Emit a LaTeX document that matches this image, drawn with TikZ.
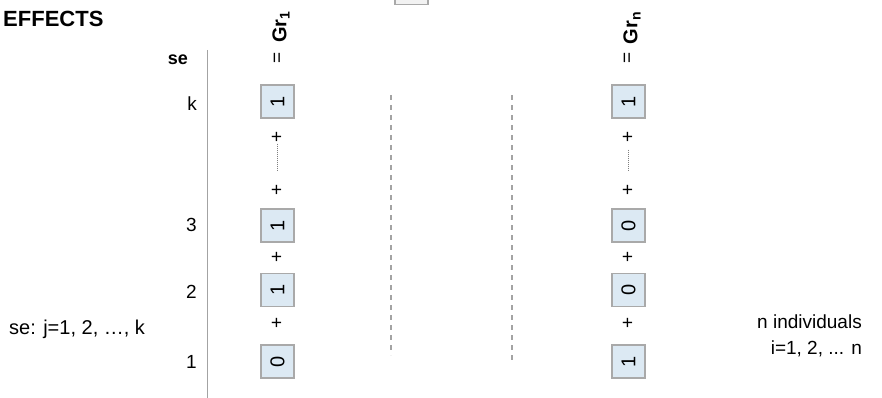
\documentclass[tikz,border=0pt]{standalone}
\usepackage{fontspec}
\setmainfont{Liberation Sans}
\usetikzlibrary{positioning}
\definecolor{cellblue}{HTML}{DCE9F3}
\definecolor{cellgray}{HTML}{A9A9A9}
\definecolor{rulegray}{HTML}{A3A3A3}

\begin{document}
\begin{tikzpicture}[x=1pt,y=-1pt,
  txt/.style={font=\fontsize{19}{22}\selectfont, inner sep=0pt},
  cell/.style={draw=cellgray, line width=1.6pt, fill=cellblue, rotate=90,
    minimum width=33pt, minimum height=33pt, inner sep=0pt,
    font=\fontsize{20}{22}\selectfont},
  plus/.style={txt, inner sep=1pt, rotate=90},
  grp/.style={font=\fontsize{20}{22}\selectfont\bfseries, inner sep=0pt, rotate=90},
  sep/.style={rulegray, line width=1.3pt, dash pattern=on 5pt off 5pt}]
  \useasboundingbox (0,0) rectangle (882,398);

  % headings and axis
  \node[font=\fontsize{22}{24}\selectfont\bfseries, anchor=base west, inner sep=0pt] (title) at (3,27) {EFFECTS};
  \node[font=\fontsize{18}{20}\selectfont\bfseries, anchor=east, inner sep=0pt] (se) at (188,60) {se};
  \coordinate (axt) at (207,50);
  \coordinate (axb) at (207,398);
  \draw[rulegray, line width=1pt] (axt) -- (axb);
  \node[txt, anchor=east] (rk) at (197,104) {k};
  \node[txt, anchor=east] (r3) at (197,225) {3};
  \node[txt, anchor=east] (r2) at (197,292) {2};
  \node[txt, anchor=east] (r1) at (197,362) {1};
  \node[txt, font=\fontsize{20}{22}\selectfont, anchor=base west] (range) at (9,334) {se: j=1, 2, …, k};

  % first individual
  \node[grp] (gra) at (281,27) {Gr\textsubscript{1}};
  \node[plus] (eqa) at (278.5,58) {=};
  \node[cell] (ak) at (277.5,101.5) {1};
  \node[plus] (pa4) at (277.5,137) {+};
  \node[plus] (pa3) at (277.5,190) {+};
  \node[cell] (a3) at (277.5,225.5) {1};
  \node[plus] (pa2) at (277.5,257) {+};
  \node[cell] (a2) at (277.5,290) {1};
  \node[plus] (pa1) at (277.5,323) {+};
  \node[cell] (a1) at (277.5,361.5) {0};
  \draw[gray, line width=0.8pt, dash pattern=on 1pt off 1pt, shorten >=12pt] (pa4) -- (pa3);

  % last individual
  \node[grp] (grb) at (632,28) {Gr\textsubscript{n}};
  \node[plus] (eqb) at (628.5,58) {=};
  \node[cell] (bk) at (628.5,101.5) {1};
  \node[plus] (pb4) at (628.5,137) {+};
  \node[plus] (pb3) at (628.5,190) {+};
  \node[cell] (b3) at (628.5,225.5) {0};
  \node[plus] (pb2) at (628.5,257) {+};
  \node[cell] (b2) at (628.5,290) {0};
  \node[plus] (pb1) at (628.5,323) {+};
  \node[cell] (b1) at (628.5,361.5) {1};
  \draw[gray, line width=0.8pt, dash pattern=on 1pt off 1pt, shorten <=6pt, shorten >=12pt] (pb4) -- (pb3);

  % gap between the two
  \coordinate (da) at (391,95);
  \coordinate (db) at (391,355);
  \coordinate (dc) at (512,95);
  \coordinate (dd) at (512,364);
  \draw[sep] (da) -- (db);
  \draw[sep] (dc) -- (dd);
  \node[cell, fill=gray!10] (top) at (411.5,-12) {};

  \node[txt, anchor=base east] (indiv) at (862,328) {n individuals};
  \node[txt, anchor=base east] (index) at (862,354) {i=1, 2, ... n};
\end{tikzpicture}
\end{document}
